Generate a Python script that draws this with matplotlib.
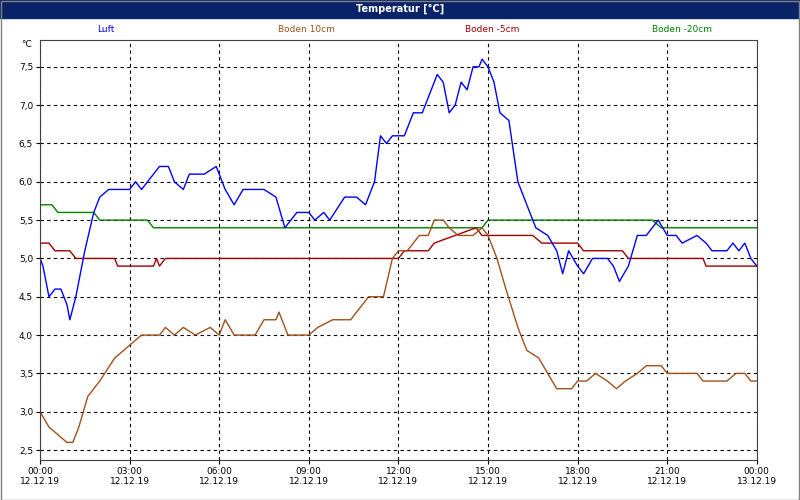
import matplotlib.pyplot as plt
from matplotlib.patches import Rectangle

# hours since 12.12.19 00:00
luft_t = [0, 0.1, 0.3, 0.5, 0.7, 0.9, 1.0, 1.2, 1.5, 1.8, 2.0, 2.3, 3.0, 3.2, 3.4, 3.6, 4.0, 4.3, 4.5, 4.8,
          5.0, 5.5, 5.9, 6.2, 6.5, 6.8, 7.5, 7.9, 8.2, 8.6, 9.0, 9.2, 9.5, 9.7, 10.2, 10.6, 10.9, 11.2, 11.4,
          11.6, 11.8, 12.2, 12.5, 12.8, 13.3, 13.5, 13.7, 13.9, 14.1, 14.3, 14.5, 14.7, 14.8, 15.0, 15.2, 15.4,
          15.7, 16.0, 16.3, 16.6, 17.0, 17.3, 17.5, 17.7, 18.0, 18.2, 18.5, 19.0, 19.2, 19.4, 19.7, 20.0, 20.3,
          20.7, 21.0, 21.3, 21.5, 22.0, 22.3, 22.5, 23.0, 23.2, 23.4, 23.6, 23.8, 24.0]
luft_v = [5.0, 4.9, 4.5, 4.6, 4.6, 4.4, 4.2, 4.5, 5.1, 5.6, 5.8, 5.9, 5.9, 6.0, 5.9, 6.0, 6.2, 6.2, 6.0, 5.9,
          6.1, 6.1, 6.2, 5.9, 5.7, 5.9, 5.9, 5.8, 5.4, 5.6, 5.6, 5.5, 5.6, 5.5, 5.8, 5.8, 5.7, 6.0, 6.6,
          6.5, 6.6, 6.6, 6.9, 6.9, 7.4, 7.3, 6.9, 7.0, 7.3, 7.2, 7.5, 7.5, 7.6, 7.5, 7.3, 6.9,
          6.8, 6.0, 5.7, 5.4, 5.3, 5.1, 4.8, 5.1, 4.9, 4.8, 5.0, 5.0, 4.9, 4.7, 4.9, 5.3, 5.3,
          5.5, 5.3, 5.3, 5.2, 5.3, 5.2, 5.1, 5.1, 5.2, 5.1, 5.2, 5.0, 4.9]

b10_t = [0, 0.3, 0.6, 0.9, 1.1, 1.3, 1.6, 2.0, 2.5, 2.8, 3.1, 3.4, 4.0, 4.2, 4.5, 4.8, 5.2, 5.7, 6.0, 6.2,
         6.5, 7.2, 7.5, 7.9, 8.0, 8.3, 9.0, 9.3, 9.8, 10.4, 10.8, 11.0, 11.5, 11.8, 12.0, 12.3, 12.7, 13.0,
         13.2, 13.5, 13.7, 14.0, 14.5, 14.8, 15.0, 15.3, 15.6, 16.0, 16.3, 16.7, 17.0, 17.3, 17.8, 18.0, 18.3,
         18.6, 19.0, 19.3, 19.6, 20.0, 20.3, 20.8, 21.0, 22.0, 22.2, 23.0, 23.3, 23.6, 23.8, 24.0]
b10_v = [3.0, 2.8, 2.7, 2.6, 2.6, 2.8, 3.2, 3.4, 3.7, 3.8, 3.9, 4.0, 4.0, 4.1, 4.0, 4.1, 4.0, 4.1, 4.0, 4.2,
         4.0, 4.0, 4.2, 4.2, 4.3, 4.0, 4.0, 4.1, 4.2, 4.2, 4.4, 4.5, 4.5, 5.0, 5.1, 5.1, 5.3, 5.3,
         5.5, 5.5, 5.4, 5.3, 5.3, 5.4, 5.3, 5.0, 4.6, 4.1, 3.8, 3.7, 3.5, 3.3, 3.3, 3.4, 3.4,
         3.5, 3.4, 3.3, 3.4, 3.5, 3.6, 3.6, 3.5, 3.5, 3.4, 3.4, 3.5, 3.5, 3.4, 3.4]

b5_t = [0, 0.3, 0.5, 1.0, 1.2, 2.5, 2.6, 3.8, 3.9, 4.0, 4.2, 12.0, 12.2, 13.0, 13.2, 14.6, 14.8, 15.2,
        16.5, 16.8, 18.0, 18.2, 19.5, 19.7, 22.2, 22.3, 24.0]
b5_v = [5.2, 5.2, 5.1, 5.1, 5.0, 5.0, 4.9, 4.9, 5.0, 4.9, 5.0, 5.0, 5.1, 5.1, 5.2, 5.4, 5.3, 5.3,
        5.3, 5.2, 5.2, 5.1, 5.1, 5.0, 5.0, 4.9, 4.9]

b20_t = [0, 0.4, 0.6, 1.8, 2.0, 3.6, 3.8, 14.8, 15.0, 20.5, 20.8, 24.0]
b20_v = [5.7, 5.7, 5.6, 5.6, 5.5, 5.5, 5.4, 5.4, 5.5, 5.5, 5.4, 5.4]

x_ticks = [0, 3, 6, 9, 12, 15, 18, 21, 24]
x_labels = ["00:00\n12.12.19", "03:00\n12.12.19", "06:00\n12.12.19", "09:00\n12.12.19",
            "12:00\n12.12.19", "15:00\n12.12.19", "18:00\n12.12.19", "21:00\n12.12.19",
            "00:00\n13.12.19"]
y_ticks = [2.5, 3.0, 3.5, 4.0, 4.5, 5.0, 5.5, 6.0, 6.5, 7.0, 7.5]

fig = plt.figure(figsize=(8, 5), dpi=100)
fig.patches.append(Rectangle((0, 0.964), 1, 0.036, transform=fig.transFigure, color="#0a246a", zorder=0))
fig.patches.append(Rectangle((0.001, 0.001), 0.998, 0.998, transform=fig.transFigure, fill=False,
                             edgecolor="#808080", lw=1))
fig.text(0.5, 0.982, "Temperatur [°C]", color="white", ha="center", va="center", fontsize=7, weight="bold")

ax = fig.add_axes([0.05, 0.08, 0.896, 0.84])
ax.plot(b20_t, b20_v, color="#008000", lw=1)
ax.plot(b5_t, b5_v, color="#a00000", lw=1)
ax.plot(b10_t, b10_v, color="#a0501a", lw=1)
ax.plot(luft_t, luft_v, color="#0000ff", lw=1)

ax.set_xlim(0, 24)
ax.set_ylim(2.37, 7.85)
ax.set_xticks(x_ticks)
ax.set_xticklabels(x_labels, fontsize=6.5)
ax.set_yticks(y_ticks)
ax.set_yticklabels([f"{v:.1f}".replace(".", ",") for v in y_ticks], fontsize=6.5)
ax.tick_params(length=3, pad=2)
ax.grid(True, color="black", linestyle=(0, (3, 3)), lw=0.8)
for s in ax.spines.values():
    s.set_color("#404040")
ax.text(-0.012, 1.0, "°C", transform=ax.transAxes, ha="right", va="top", fontsize=6.5)

legend = [("Luft", "#0000ff", 0.1325), ("Boden 10cm", "#a0501a", 0.3825),
          ("Boden -5cm", "#a00000", 0.615), ("Boden -20cm", "#008000", 0.8525)]
for name, col, xp in legend:
    fig.text(xp, 0.94, name, color=col, ha="center", va="center", fontsize=6.5)

fig.savefig("out.png", dpi=100)
